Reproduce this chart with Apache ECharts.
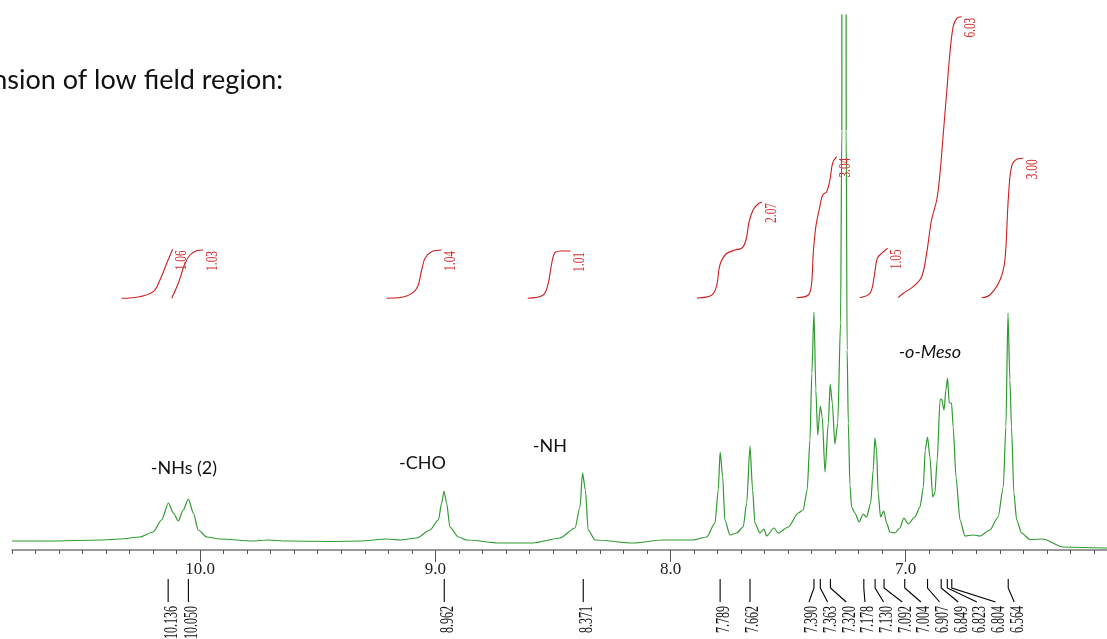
<!DOCTYPE html>
<html><head><meta charset="utf-8">
<script src="https://cdn.jsdelivr.net/npm/echarts@6/dist/echarts.min.js"></script>
<style>html,body{margin:0;padding:0;background:#fff}#c{width:1107px;height:639px}</style>
</head><body><div id="c"></div>
<script>
// ---- spectrum (chemical shift in ppm, relative intensity) ----
const spectrumPpm = [10.800,10.638,10.426,10.341,10.256,10.200,10.164,10.135,10.114,10.093,10.072,10.050,10.029,10.008,9.972,9.916,9.775,9.712,9.631,9.448,9.320,9.206,9.150,9.079,9.023,8.987,8.973,8.963,8.952,8.938,8.902,8.867,8.725,8.585,8.470,8.406,8.385,8.374,8.362,8.350,8.321,8.160,8.032,7.905,7.846,7.811,7.797,7.789,7.778,7.769,7.747,7.719,7.691,7.676,7.662,7.651,7.641,7.620,7.603,7.591,7.560,7.542,7.499,7.457,7.436,7.419,7.407,7.399,7.390,7.382,7.374,7.363,7.355,7.343,7.329,7.321,7.312,7.301,7.289,7.277,7.2715,7.270,7.263,7.2545,7.253,7.249,7.244,7.237,7.230,7.216,7.198,7.181,7.166,7.149,7.138,7.131,7.124,7.117,7.107,7.093,7.081,7.067,7.046,7.025,7.008,6.989,6.961,6.939,6.925,6.917,6.907,6.897,6.885,6.876,6.866,6.854,6.847,6.837,6.829,6.822,6.815,6.805,6.798,6.786,6.769,6.748,6.713,6.684,6.642,6.607,6.585,6.574,6.565,6.557,6.550,6.540,6.528,6.507,6.472,6.417,6.331,6.238,6.144];
const spectrumInt = [9,9,10,11,13,18,30,47,37,29,40,51,37,20,13,11,9,10,9,8.5,9,11,10,12,20,30,47,59,47,23,13,10,7,7,12,22,43,77,60,20,10,7,10,10,13,27,60,98,73,30,15,17,23,47,104,60,27,17,21,14,22,17,23,37,40,60,110,177,238,160,115,144,133,78,127,166,147,106,127,227,420,1200,2000,1200,420,200,127,65,43,37,28,36,33,47,80,112,100,57,33,39,27,18,17,22,32,26,33,43,63,100,113,93,53,57,90,150,151,140,160,172,147,147,123,73,30,14,15,14,20,33,63,123,237,170,123,57,30,17,10.5,11,3,2.5,2];

// ---- integral curves: [ppm, running integral] ----
const integral1 = [[10.334,251.7],[10.256,253.3],[10.199,258.3],[10.171,270],[10.142,286.7],[10.117,300.7]];
const integral2 = [[10.121,251.7],[10.093,266.7],[10.064,286.7],[10.043,295],[10.015,299.3],[9.987,300]];
const integral3 = [[9.207,251.7],[9.122,254],[9.079,261.7],[9.058,280],[9.044,291.7],[9.016,298.3],[8.973,300]];
const integral4 = [[8.607,251.7],[8.541,255],[8.520,266.7],[8.505,286.7],[8.491,297.3],[8.463,299],[8.425,299]];
const integral5 = [[7.888,252],[7.824,255],[7.803,265],[7.790,285],[7.764,296],[7.726,300],[7.696,302],[7.679,310],[7.666,328],[7.649,340],[7.628,346],[7.611,348]];
const integral6 = [[7.464,252.3],[7.414,255],[7.400,266.7],[7.393,296.7],[7.382,323.3],[7.365,343.3],[7.353,355],[7.336,358.3],[7.322,370],[7.311,386.7],[7.294,393.3]];
const integral7 = [[7.195,252.3],[7.152,256.7],[7.134,273.3],[7.121,291.7],[7.102,296.7],[7.077,301.7]];
const integral8 = [[7.032,252.3],[7.010,256.7],[6.968,263.3],[6.932,273.3],[6.911,296.7],[6.890,330],[6.868,350],[6.854,376.7],[6.840,416.7],[6.826,456.7],[6.812,496.7],[6.798,523.3],[6.783,531.7],[6.762,533.3]];
const integral9 = [[6.677,252.3],[6.642,255],[6.599,270],[6.578,290],[6.564,350],[6.550,383.3],[6.528,390.7],[6.500,391.7]];
const integralCurves = [integral1,integral2,integral3,integral4,integral5,integral6,integral7,integral8,integral9];
const integralLabels = ['1.06','1.03','1.04','1.01','2.07','3.04','1.05','6.03','3.00'];

// ---- peak picking ----
const peakPpms = [10.136,10.050,8.962,8.371,7.789,7.662,7.390,7.363,7.320,7.178,7.130,7.092,7.004,6.907,6.849,6.823,6.804,6.564];

// ---- axis ticks ----
const majorTicks = [7,8,9,10];
const minorTicks = [];
for (let i = 62; i <= 108; i++) minorTicks.push(i / 10);

// ---- annotations ----
const annotTexts = ['-NHs (2)','-CHO','-NH','-o-Meso'];
const annotPpm = [10.069,9.055,8.513,6.897];
const annotInt = [82,87,104,198];
const annotItalic = [false,false,false,true];
const titleText = 'Expansion of low field region:';

const GREEN = '#2f9a2f', RED = '#cc1f1f';
const chart = echarts.init(document.getElementById('c'));

function peakLayout(api){
  const xs = peakPpms.map(p => api.coord([p, 0])[0]);
  const GAP = 18.66, SHIFT = 5;
  const out = xs.slice();
  for (let i = 1; i < xs.length; i++) out[i] = Math.max(xs[i], out[i-1] + GAP);
  let i = 0;
  while (i < xs.length) {
    let j = i;
    while (j + 1 < xs.length && out[j+1] > xs[j+1] + 0.01) j++;
    if (j > i) for (let k = i; k <= j; k++) out[k] -= SHIFT;
    i = j + 1;
  }
  return {xs, out};
}

const series = [];
series.push({
  type:'line', data: spectrumPpm.map((p,i)=>[p, spectrumInt[i]]),
  showSymbol:false, smooth:0.25, smoothMonotone:'x', clip:true,
  lineStyle:{color:GREEN, width:1.2}, animation:false, z:3
});
integralCurves.forEach((c, k) => {
  series.push({
    type:'line', data:c, showSymbol:false, smooth:0.35, clip:false,
    lineStyle:{color:RED, width:1.1}, animation:false, z:4
  });
});
// integral labels
series.push({
  type:'custom', coordinateSystem:'cartesian2d', animation:false, z:5,
  data: integralCurves.map((c,k)=>[c[c.length-1][0], c[c.length-1][1], k]),
  renderItem:(params, api)=>{
    const k = api.value(2);
    const pt = api.coord([api.value(0), api.value(1)]);
    return {type:'text', x: pt[0]+9.5, y: pt[1]+1, rotation: Math.PI/2, scaleX:0.71,
      style:{text: integralLabels[k], font:'16px "Liberation Serif"', fill:'#d03030', align:'right', verticalAlign:'middle'}};
  }
});
// peak labels
series.push({
  type:'custom', coordinateSystem:'cartesian2d', animation:false, z:5, clip:false,
  data: peakPpms.map((p,i)=>[p, -4, i]),
  renderItem:(params, api)=>{
    const i = api.value(2);
    const L = peakLayout(api);
    const base = api.coord([peakPpms[i], -4])[1];
    const px = L.xs[i], lx = L.out[i];
    return {type:'group', children:[
      {type:'polyline', shape:{points:[[px, base+25],[px, base+34],[lx, base+48]]}, style:{stroke:'#000', lineWidth:1.1, fill:null}},
      {type:'text', x: lx+3.5, y: base+52, rotation: Math.PI/2, scaleX:0.63,
        style:{text: peakPpms[i].toFixed(3), font:'19px "Liberation Serif"', fill:'#111', align:'right', verticalAlign:'middle'}}
    ]};
  }
});
// annotations
series.push({
  type:'custom', coordinateSystem:'cartesian2d', animation:false, z:6,
  data: annotTexts.map((t,i)=>[annotPpm[i], annotInt[i], i]),
  renderItem:(params, api)=>{
    const i = api.value(2);
    const pt = api.coord([api.value(0), api.value(1)]);
    return {type:'text', x: pt[0], y: pt[1],
      style:{text: annotTexts[i], font:(annotItalic[i]?'italic ':'')+'18px Lato', fill:'#111', align:'center', verticalAlign:'middle'}};
  }
});

chart.setOption({
  animation:false,
  grid:{left:12, right:0, top:15, bottom:85, containLabel:false},
  xAxis:[
    {type:'value', inverse:true, min:6.144, max:10.8, position:'bottom',
     axisLine:{show:true, lineStyle:{color:'#7a7a7a', width:1.5}},
     axisTick:{show:true, customValues:minorTicks, length:4, lineStyle:{color:'#555', width:1}},
     axisLabel:{show:false}, splitLine:{show:false}},
    {type:'value', inverse:true, min:6.144, max:10.8, position:'bottom',
     axisLine:{show:false},
     axisTick:{show:true, customValues:majorTicks, length:8, lineStyle:{color:'#555', width:1}},
     axisLabel:{show:true, customValues:majorTicks, formatter:v=>v.toFixed(1), margin:7,
       fontFamily:'Liberation Serif', fontSize:17, color:'#222'},
     splitLine:{show:false}}
  ],
  yAxis:{type:'value', min:-4, max:535, show:false},
  series: series,
  graphic:[{type:'text', x:283, y:80, style:{text:titleText, font:'27px Lato', fill:'#111', align:'right', verticalAlign:'middle'}}]
});
</script></body></html>
